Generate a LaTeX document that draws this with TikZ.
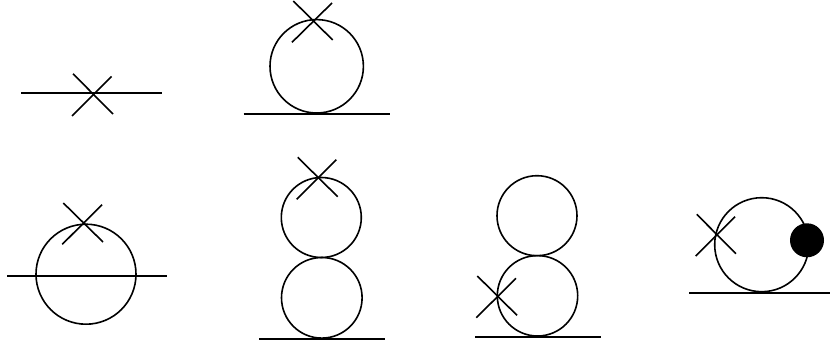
\documentclass[tikz,border=0pt]{standalone}
\tikzset{ln/.style={line width=1.6pt,black},base/.style={line width=1.8pt,black}}
\begin{document}
\begin{tikzpicture}[x=1pt,y=-1pt,ln]
\useasboundingbox (0,0) rectangle (830,345);
% 1
\draw[base] (21,93.3) -- (161.7,93.3);
\draw (73,73.8) -- (113,114);
\draw (72,116) -- (111.6,76.4);
% 2
\draw (316.7,66.3) circle (46.7);
\draw[base] (243.5,114) -- (390,114);
\draw (293.3,1) -- (332.7,40);
\draw (292,42.3) -- (332,3);
% 3
\draw (86,274.2) circle (50);
\draw[base] (7.3,276.3) -- (167.3,276.3);
\draw (63.3,203) -- (103,242);
\draw (62.3,244.3) -- (102,204.7);
% 4
\draw (321.3,217.5) circle (40);
\draw (321.8,297.8) circle (40.3);
\draw[base] (259.3,338.7) -- (385,338.7);
\draw (297.7,157.3) -- (337.7,196.7);
\draw (296.7,199.3) -- (336.3,159.7);
% 5
\draw (537,215.7) circle (40);
\draw (537.5,295.8) circle (40.2);
\draw[base] (475,337) -- (600.7,337);
\draw (477.3,276) -- (517,315.3);
\draw (476.3,317.7) -- (516,278.3);
% 6
\draw (761.7,244.7) circle (47);
\draw[base] (689,292.7) -- (830,292.7);
\draw (696.7,214.3) -- (736,253.7);
\draw (695.7,256) -- (735,216.7);
\fill (807,240.3) circle (17);
\end{tikzpicture}
\end{document}
